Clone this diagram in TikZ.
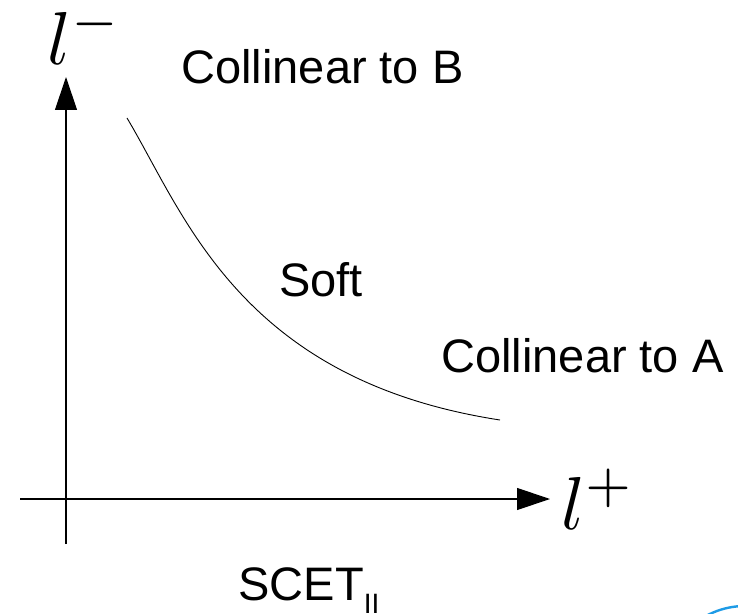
\documentclass[tikz,border=0pt]{standalone}
\usepackage{fontspec}
\setmainfont{Liberation Sans}
\usetikzlibrary{arrows.meta}
\definecolor{arcblue}{HTML}{1E9BE6}

\begin{document}
\begin{tikzpicture}[
  x=0.5pt, y=-0.5pt,
  axis/.style={-{Triangle[length=16.5pt, width=11pt]}, line width=0.6pt},
  lbl/.style={font=\fontsize{23.5}{28}\selectfont, inner sep=0pt, anchor=base west},
  axlab/.style={scale=3.75, inner sep=0pt, anchor=base west}
]
\useasboundingbox (0,0) rectangle (738,614);

% axes
\coordinate (ybot) at (66,544);
\coordinate (ytop) at (66,77);
\coordinate (xlft) at (20,499);
\coordinate (xrgt) at (550,499);
\draw[axis] (ybot) -- (ytop);
\draw[axis] (xlft) -- (xrgt);
\node[axlab] (lminus) at (46,65)  {$l^-$};
\node[axlab] (lplus)  at (560,529) {$l^+$};

% boundary between the regions
\coordinate (cstart) at (127,118);
\coordinate (cend)   at (500,420);
\draw[line width=0.45pt] (cstart) .. controls (185,215) and (240,380) .. (cend);

\node[lbl] (collB) at (181,84)  {Collinear to B};
\node[lbl] (soft)  at (279,297) {Soft};
\node[lbl] (collA) at (441,372) {Collinear to A};
\node[lbl] (scet)  at (238,600) {SCET\raisebox{-6.5pt}{\fontsize{14}{14}\selectfont II}};

\begin{scope}
  \clip (0,0) rectangle (738,614);
  \draw[arcblue, line width=1.2pt] (745,687) circle[radius=81];
\end{scope}
\end{tikzpicture}
\end{document}
